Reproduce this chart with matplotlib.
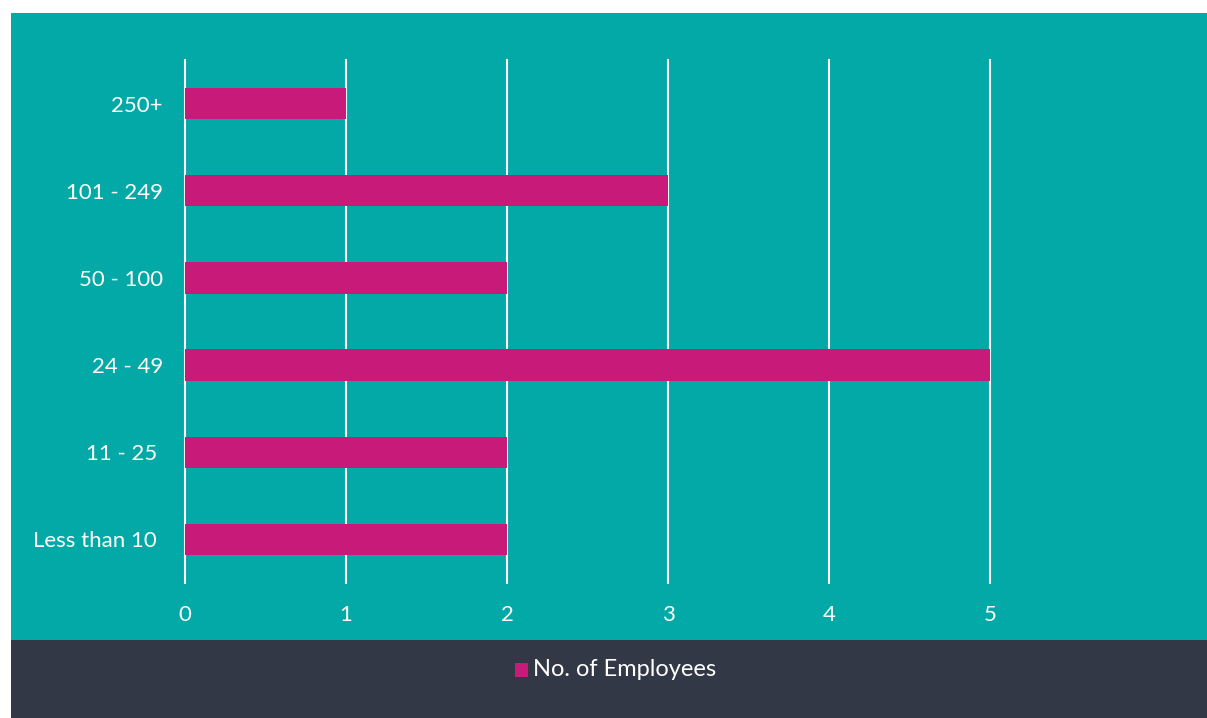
import matplotlib
matplotlib.use("Agg")
import matplotlib.pyplot as plt
from matplotlib.patches import Rectangle

categories = ["Less than 10 ", "11 - 25 ", "24 - 49", "50 - 100", "101 - 249", "250+"]
values = [2, 2, 5, 2, 3, 1]
xticks = [0, 1, 2, 3, 4, 5]
series_name = "No. of Employees"

TEAL = "#03A9A6"
DARK = "#323846"
MAGENTA = "#C81B79"
FONT = "Lato"

W, H = 1207, 718
fig = plt.figure(figsize=(W / 100, H / 100), dpi=100)
fig.patch.set_facecolor("white")
fig.patches.append(Rectangle((11 / W, (H - 640) / H), (W - 11) / W, (640 - 13) / H,
                             transform=fig.transFigure, facecolor=TEAL, edgecolor="none", zorder=-10))
fig.patches.append(Rectangle((11 / W, 0), (W - 11) / W, (H - 640) / H,
                             transform=fig.transFigure, facecolor=DARK, edgecolor="none", zorder=-10))

x0, x5 = 185, 990
ytop, ybot = 60, 583
ax = fig.add_axes([x0 / W, (H - ybot) / H, (x5 - x0) / W, (ybot - ytop) / H])
ax.set_zorder(5)
ax.set_facecolor("none")
ax.barh(range(len(categories)), values, height=0.36, color=MAGENTA, zorder=3)
ax.set_xlim(0, 5)
ax.set_ylim(-0.5, len(categories) - 0.5)
ax.set_xticks(xticks)
ax.set_xticklabels([str(t) for t in xticks], fontsize=16, color="white", family=FONT)
ax.set_yticks(range(len(categories)))
ax.set_yticklabels(categories, fontsize=16, color="white", family=FONT)
ax.tick_params(axis="both", length=0)
ax.tick_params(axis="x", pad=16)
ax.tick_params(axis="y", pad=16)
for s in ax.spines.values():
    s.set_visible(False)
ax.grid(axis="x", color="white", linewidth=1.5, zorder=1)
ax.grid(axis="y", visible=False)
for g in ax.get_xgridlines():
    g.set_clip_on(False)

# legend
fig.patches.append(Rectangle((515 / W, (H - 677) / H), 13 / W, 14 / H,
                             transform=fig.transFigure, facecolor=MAGENTA, edgecolor="none", zorder=1))
fig.text(533 / W, (H - 670) / H, series_name, color="white", fontsize=17, family=FONT,
         va="center", ha="left")

fig.savefig("out.png", dpi=100, facecolor=fig.get_facecolor())
